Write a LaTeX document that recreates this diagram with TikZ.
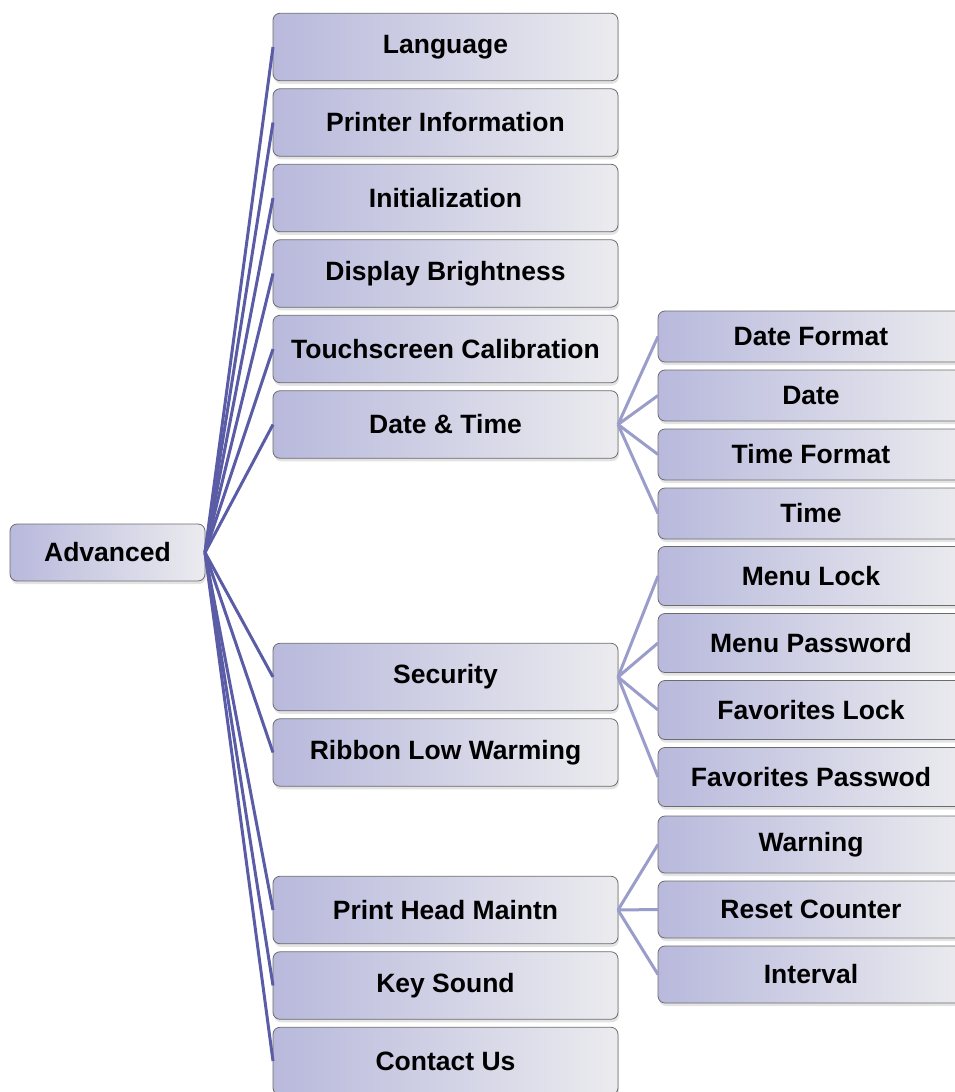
\documentclass[tikz,border=0pt]{standalone}
\usepackage{fontspec}
\setmainfont{Liberation Sans}
\usetikzlibrary{positioning,shadows}
\definecolor{mnLine}{HTML}{5A5DA6}
\definecolor{mnSub}{HTML}{9A9CC9}
\definecolor{mnLeft}{HTML}{B8B9DC}
\definecolor{mnMid}{HTML}{DCDCE8}
\definecolor{mnRight}{HTML}{EBEBEF}
\definecolor{mnEdge}{HTML}{6C6C6C}

\begin{document}
\begin{tikzpicture}[x=1pt,y=-1pt,
  node distance=8pt,
  item/.style={draw=mnEdge,line width=0.8pt,rounded corners=7pt,
    left color=mnLeft,middle color=mnMid,right color=mnRight,
    font=\bfseries\fontsize{26.5}{30}\selectfont,
    inner sep=0pt,outer sep=0pt,
    drop shadow={shadow xshift=1pt,shadow yshift=-3pt,opacity=0.22}},
  rootbox/.style={item,minimum width=195pt,minimum height=57pt},
  menubox/.style={item,minimum width=345pt,minimum height=67.5pt},
  subbox/.style={item,minimum width=306pt,minimum height=#1},
  link/.style={draw=mnLine,line width=3pt},
  sublink/.style={draw=mnSub,line width=3pt}
]
\useasboundingbox (0,0) rectangle (955,1092);

\node[rootbox] (adv) at (107.5,552.5) {Advanced};

% first level
\node[menubox] (lang) at (445.5,47) {Language};
\node[menubox,below=of lang] (info) {Printer Information};
\node[menubox,below=of info] (init) {Initialization};
\node[menubox,below=of init] (disp) {Display Brightness};
\node[menubox,below=of disp] (touch) {Touchscreen Calibration};
\node[menubox,below=of touch] (dt) {Date \& Time};
\node[menubox] (sec) at (445.5,677) {Security};
\node[menubox,below=of sec] (rib) {Ribbon Low Warming};
\node[menubox] (phm) at (445.5,910) {Print Head Maintn};
\node[menubox,below=of phm] (key) {Key Sound};
\node[menubox,below=of key] (cont) {Contact Us};

% second level
\node[subbox=51pt] (dfmt) at (811,336.5) {Date Format};
\node[subbox=51pt,below=of dfmt] (date) {Date};
\node[subbox=51pt,below=of date] (tfmt) {Time Format};
\node[subbox=51pt,below=of tfmt] (time) {Time};
\node[subbox=59pt] (mlock) at (811,576) {Menu Lock};
\node[subbox=59pt,below=of mlock] (mpass) {Menu Password};
\node[subbox=59pt,below=of mpass] (flock) {Favorites Lock};
\node[subbox=59pt,below=of flock] (fpass) {Favorites Passwod};
\node[subbox=57pt] (warn) at (811,844.5) {Warning};
\node[subbox=57pt,below=of warn] (reset) {Reset Counter};
\node[subbox=57pt,below=of reset] (intv) {Interval};

\draw[link] (adv.east)--(lang.west); \draw[link] (adv.east)--(info.west);
\draw[link] (adv.east)--(init.west); \draw[link] (adv.east)--(disp.west);
\draw[link] (adv.east)--(touch.west); \draw[link] (adv.east)--(dt.west);
\draw[link] (adv.east)--(sec.west); \draw[link] (adv.east)--(rib.west);
\draw[link] (adv.east)--(phm.west); \draw[link] (adv.east)--(key.west);
\draw[link] (adv.east)--(cont.west);

\draw[sublink] (dt.east)--(dfmt.west); \draw[sublink] (dt.east)--(date.west);
\draw[sublink] (dt.east)--(tfmt.west); \draw[sublink] (dt.east)--(time.west);
\draw[sublink] (sec.east)--(mlock.west); \draw[sublink] (sec.east)--(mpass.west);
\draw[sublink] (sec.east)--(flock.west); \draw[sublink] (sec.east)--(fpass.west);
\draw[sublink] (phm.east)--(warn.west); \draw[sublink] (phm.east)--(reset.west);
\draw[sublink] (phm.east)--(intv.west);
\end{tikzpicture}
\end{document}
